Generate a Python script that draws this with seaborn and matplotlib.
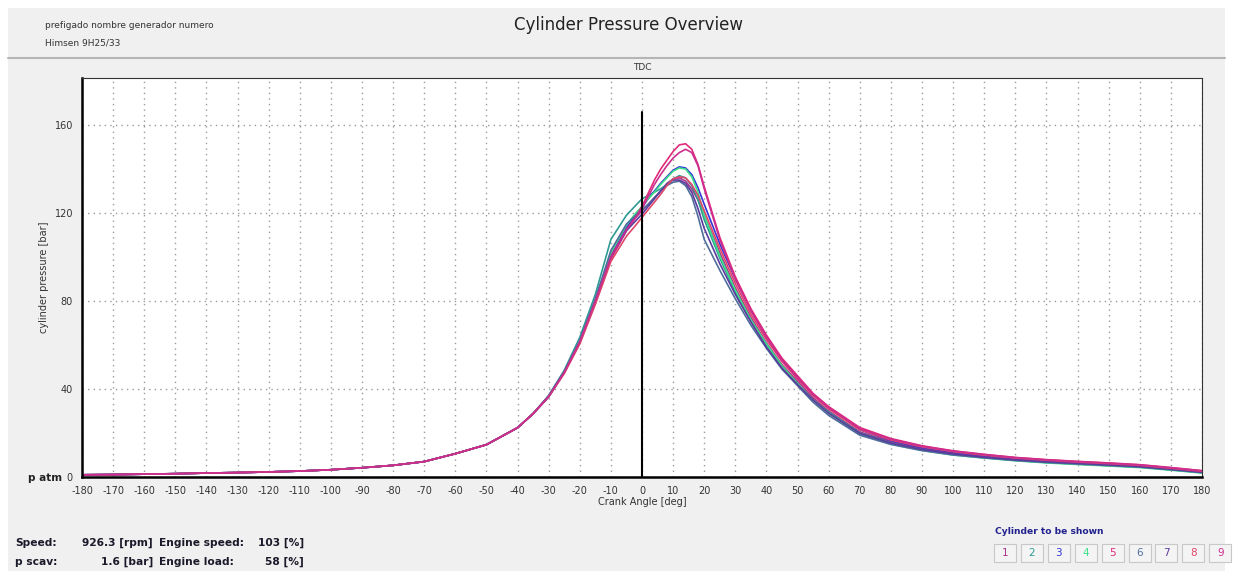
import numpy as np
import pandas as pd
import matplotlib.pyplot as plt
import seaborn as sns
from matplotlib.patches import Rectangle

# shared compression part (all cylinders overlap here)
angle_low = [-180, -170, -160, -150, -140, -130, -120, -110, -100, -90, -80, -70, -60, -50, -40, -35]
p_low = [1.0, 1.1, 1.3, 1.5, 1.8, 2.0, 2.3, 2.7, 3.3, 4.2, 5.3, 7.0, 10.6, 14.7, 22.4, 28.8]

# per-cylinder part
angle_high = [-30, -25, -20, -15, -10, -5, -2, 0, 2, 4, 6, 8, 10, 12, 14, 16, 18, 20,
              25, 30, 35, 40, 45, 50, 55, 60, 70, 80, 90, 100, 110, 120, 130, 140, 150, 160, 170, 180]

cyl1 = [36.8, 47.8, 62, 80.5, 101, 113, 118, 121, 124, 127, 130, 133.5, 135.5, 136, 134.5, 131, 126, 119,
        102, 86, 72.5, 61, 51, 43.5, 36, 30, 20.5, 16, 13, 10.9, 9.4, 8.1, 7.1, 6.4, 5.7, 4.9, 3.7, 2.3]
cyl2 = [37, 48.5, 63.5, 83, 108, 119, 123.5, 126.5, 128, 129.5, 131, 133, 135.5, 137, 136, 132.5, 126, 117,
        99.5, 84, 71, 60, 50, 42.5, 35, 29.5, 20, 15.5, 12.4, 10.3, 8.8, 7.6, 6.6, 5.9, 5.2, 4.5, 3.3, 2.0]
cyl3 = [36.5, 47.5, 61.5, 80, 100, 113.5, 119, 122.5, 126.5, 130, 133.5, 136.5, 139.5, 141, 140.5, 137.5, 131.5, 124,
        106, 90, 76, 64, 53.5, 45.5, 37.5, 31.5, 21.5, 16.5, 13.4, 11.2, 9.6, 8.3, 7.3, 6.6, 5.9, 5.1, 3.9, 2.5]
cyl4 = [36.5, 47.5, 61.5, 80, 102, 114.5, 120, 123, 126.5, 129.5, 133, 136, 139, 140.5, 140, 136.5, 129.5, 119,
        100.5, 85, 71.5, 60.5, 50.5, 42.5, 35, 29, 19.5, 15, 12.1, 10, 8.6, 7.4, 6.4, 5.7, 5.0, 4.3, 3.1, 1.8]
cyl5 = [36.5, 47.5, 61, 79, 99, 112, 118.5, 123, 129, 135, 140, 144, 148, 151, 151.5, 149, 142, 132,
        109, 91, 76.5, 64.5, 54, 46, 38, 32, 22.5, 17.5, 14.2, 11.9, 10.3, 8.9, 7.9, 7.1, 6.4, 5.6, 4.3, 2.9]
cyl6 = [37, 48, 62, 81, 103, 115, 119, 121.5, 124, 127, 130, 132.5, 134, 134.5, 132.5, 127.5, 118.5, 108,
        94, 81, 69, 58.5, 49, 41.5, 34, 28, 19, 14.8, 12, 10, 8.7, 7.5, 6.6, 5.9, 5.2, 4.5, 3.3, 2.0]
cyl7 = [36.5, 47.5, 61, 79.5, 100, 112, 116.5, 119.5, 123, 126.5, 130, 133, 135, 135, 133.5, 129.5, 122, 113,
        97, 83, 70.5, 59, 49.5, 42, 35, 29, 19.8, 15.4, 12.5, 10.5, 9.0, 7.8, 6.9, 6.2, 5.5, 4.7, 3.5, 2.2]
cyl8 = [36.5, 47, 60.5, 78.5, 98, 109.5, 114.5, 118, 121.5, 125, 128.5, 132.5, 135.5, 136.5, 136, 133, 128, 121,
        104, 88, 74, 62.5, 52.5, 44.5, 37, 31, 21.5, 16.8, 13.7, 11.5, 9.9, 8.6, 7.6, 6.8, 6.1, 5.3, 4.0, 2.6]
cyl9 = [36.5, 47.5, 61.5, 80, 100, 112.5, 118, 122, 127.5, 133, 137.5, 141.5, 145, 147.5, 149, 147.5, 141.5, 131,
        108, 90, 75.5, 63.5, 53, 45, 37.5, 31.5, 22, 17.2, 14, 11.8, 10.2, 8.8, 7.8, 7.0, 6.3, 5.5, 4.2, 2.8]

cylinders = ["1", "2", "3", "4", "5", "6", "7", "8", "9"]
cyl_colors = ["#a8338c", "#2e9a94", "#3535d5", "#3de08a", "#e02a7a",
              "#4f6e9c", "#5b3a9e", "#e0466a", "#cc2d8f"]
x_ticks = list(range(-180, 181, 10))
y_ticks = [0, 40, 80, 120, 160]

rows = []
for name, vals in zip(cylinders, [cyl1, cyl2, cyl3, cyl4, cyl5, cyl6, cyl7, cyl8, cyl9]):
    for a, p in zip(angle_low + angle_high, p_low + vals):
        rows.append({"angle": a, "pressure": p, "cyl": name})
df = pd.DataFrame(rows)

sns.set_style("white")
plt.rcParams["font.family"] = ["DejaVu Sans"]
plt.rcParams["axes.unicode_minus"] = False

W, H = 1233, 571
fig = plt.figure(figsize=(W / 100, H / 100), dpi=100, facecolor="white")
fig.patches.append(Rectangle((8 / W, 0), (W - 16) / W, 1 - 8 / H, transform=fig.transFigure,
                             facecolor="#f0f0f0", edgecolor="none", zorder=-10))
fig.lines.append(plt.Line2D([8 / W, (W - 8) / W], [1 - 58 / H, 1 - 58 / H], transform=fig.transFigure,
                            color="#b5b5b5", lw=1.5, zorder=-5))

ax = fig.add_axes([82 / W, 1 - 477 / H, 1120 / W, 399 / H])
ax.set_zorder(2)
ax.set_facecolor("white")
sns.lineplot(data=df, x="angle", y="pressure", hue="cyl", palette=dict(zip(cylinders, cyl_colors)),
             legend=False, lw=1.2, ax=ax, sort=False, estimator=None)

ax.set_xlim(-180, 180)
ax.set_ylim(0, 181.4)
ax.set_xticks(x_ticks)
ax.set_xticks(range(-180, 181, 2), minor=True)
ax.set_yticks(y_ticks)
ax.tick_params(axis="both", labelsize=7, colors="#333333", length=3, width=0.8)
ax.tick_params(axis="x", which="minor", length=2, width=0.6, colors="#333333")
ax.grid(True, which="major", color="#9a9a9a", linestyle=(0, (1, 3)), lw=1.0)
ax.set_axisbelow(True)
for side in ["left", "bottom"]:
    ax.spines[side].set_linewidth(1.8)
    ax.spines[side].set_color("black")
for side in ["top", "right"]:
    ax.spines[side].set_linewidth(0.8)
    ax.spines[side].set_color("#333333")
ax.set_xlabel("Crank Angle [deg]", fontsize=7, color="#333333", labelpad=1)
ax.set_ylabel("cylinder pressure [bar]", fontsize=7, color="#333333", labelpad=4)

ax.plot([0, 0], [0, 166], color="black", lw=1.5, zorder=5)

fig.text(642 / W, 1 - 68 / H, "TDC", fontsize=6.5, ha="center", va="center", color="#333333")
fig.text(628 / W, 1 - 25 / H, "Cylinder Pressure Overview", fontsize=12, ha="center", va="center", color="#222222")
fig.text(45 / W, 1 - 25 / H, "prefigado nombre generador numero", fontsize=6.5, va="center", color="#333333")
fig.text(45 / W, 1 - 43 / H, "Himsen 9H25/33", fontsize=6.5, va="center", color="#333333")
fig.text(28 / W, 1 - 478 / H, "p atm", fontsize=7.5, fontweight="bold", va="center", color="#222222")

info = dict(fontsize=7.7, fontweight="bold", va="center", color="#1a1a2a")
fig.text(15 / W, 1 - 543 / H, "Speed:", **info)
fig.text(153 / W, 1 - 543 / H, "926.3 [rpm]", ha="right", **info)
fig.text(159 / W, 1 - 543 / H, "Engine speed:", **info)
fig.text(304 / W, 1 - 543 / H, "103 [%]", ha="right", **info)
fig.text(15 / W, 1 - 562 / H, "p scav:", **info)
fig.text(153 / W, 1 - 562 / H, "1.6 [bar]", ha="right", **info)
fig.text(159 / W, 1 - 562 / H, "Engine load:", **info)
fig.text(304 / W, 1 - 562 / H, "58 [%]", ha="right", **info)

fig.text(995 / W, 1 - 532 / H, "Cylinder to be shown", fontsize=6.6, fontweight="bold", va="center", color="#22228f")
for i, (name, col) in enumerate(zip(cylinders, cyl_colors)):
    x0 = 994 + i * 26.9
    fig.patches.append(Rectangle((x0 / W, 1 - 562 / H), 22 / W, 18 / H, transform=fig.transFigure,
                                 facecolor="#f4f4f4", edgecolor="#c8c8c8", lw=0.8))
    fig.text((x0 + 11) / W, 1 - 553 / H, name, fontsize=7.5, ha="center", va="center", color=col)

fig.savefig("out.png", dpi=100, facecolor=fig.get_facecolor())
